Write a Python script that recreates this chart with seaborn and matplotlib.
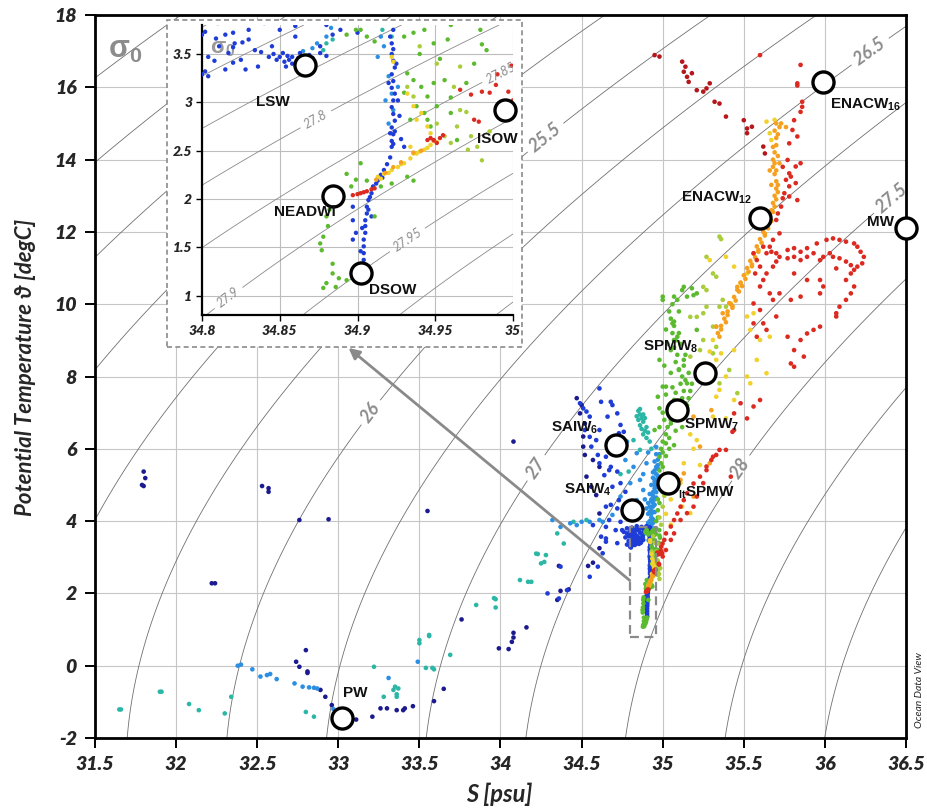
import numpy as np
import pandas as pd
import matplotlib
matplotlib.use("Agg")
import matplotlib.pyplot as plt
import seaborn as sns
from matplotlib.patches import Rectangle

sns.set_theme(style="white")
plt.rcParams["font.family"] = ["Lato", "DejaVu Sans"]
plt.rcParams["mathtext.fontset"] = "custom"
plt.rcParams["mathtext.rm"] = "Liberation Sans:bold"
plt.rcParams["mathtext.bf"] = "Liberation Sans:bold"
plt.rcParams["mathtext.it"] = "Liberation Sans:bold:italic"
plt.rcParams["mathtext.default"] = "rm"

# ---------------- data (S [psu], theta [degC]) ----------------
navy = [(31.80, 5.37), (31.81, 5.19), (31.79, 5.00), (31.80, 4.97),
        (32.53, 4.97), (32.57, 4.91), (32.57, 4.81), (32.76, 4.03), (32.94, 4.05),
        (32.22, 2.28), (32.24, 2.28),
        (32.80, 0.43), (32.74, 0.11), (32.76, -0.03), (32.81, -0.16), (32.81, -0.20),
        (32.89, -0.67), (32.92, -0.86), (32.96, -1.09),
        (33.11, -1.49), (33.21, -1.41), (33.26, -1.18), (33.30, -1.18), (33.36, -1.23),
        (33.40, -1.23), (33.46, -1.12), (33.41, -1.18), (33.08, -1.47),
        (33.59, -0.98), (33.65, -0.64), (33.76, 1.28), (33.55, 4.28), (34.08, 6.20),
        (33.99, 0.48), (34.05, 0.46), (34.07, 0.66), (34.08, 0.78), (34.08, 0.91), (34.16, 1.06),
        (34.35, 1.82), (34.37, 2.07), (34.42, 2.11), (34.36, 2.76), (34.54, 2.76), (34.57, 2.85),
        (34.47, 7.40), (34.50, 7.21), (34.49, 6.98), (34.52, 6.70), (34.51, 6.34),
        (34.51, 6.06), (34.52, 5.83), (34.57, 5.69), (34.61, 5.50), (34.53, 5.23),
        (34.56, 4.95), (34.59, 4.72), (34.61, 4.21), (34.61, 3.25)]

blue = [(34.61, 7.67), (34.62, 7.30), (34.68, 7.30), (34.69, 7.21), (34.51, 7.12), (34.49, 7.26),
        (34.53, 7.03), (34.55, 6.89), (34.52, 6.52), (34.55, 6.33), (34.59, 6.24), (34.61, 6.52),
        (34.66, 6.89), (34.72, 6.98), (34.74, 6.66), (34.73, 6.43), (34.76, 6.47), (34.56, 6.06),
        (34.60, 5.83), (34.65, 5.78), (34.61, 5.60), (34.68, 5.50), (34.64, 5.27), (34.72, 5.37),
        (34.74, 5.05), (34.69, 4.95), (34.77, 4.81), (34.73, 4.58), (34.68, 4.45), (34.78, 4.26),
        (34.74, 3.98), (34.71, 3.75), (34.65, 3.84), (34.62, 3.57), (34.57, 3.89), (34.65, 3.43),
        (34.63, 3.11), (34.60, 2.74), (34.55, 2.46), (34.37, 2.74), (34.41, 2.09), (34.36, 1.86),
        (34.29, 2.00), (34.67, 5.41), (34.65, 4.40), (34.72, 4.35), (34.67, 4.03), (34.75, 3.75),
        (34.78, 3.66), (34.65, 3.52), (34.72, 3.39), (34.82, 3.57), (34.80, 3.29),
        (34.78, 3.80), (34.79, 3.65), (34.77, 3.55), (34.76, 3.70), (34.79, 3.45), (34.78, 3.35),
        (34.84, 3.86), (34.87, 3.84), (34.90, 3.86), (34.92, 3.83), (34.81, 3.82), (34.86, 3.79),
        (34.80, 3.70), (34.83, 3.65), (34.85, 3.75), (34.88, 3.80), (34.82, 3.72), (34.79, 3.58),
        (34.84, 3.82), (34.86, 3.68), (34.90, 3.72),
        # LSW core
        (34.802, 3.73), (34.804, 3.47), (34.802, 3.32), (34.804, 3.27), (34.817, 3.51),
        (34.821, 3.61), (34.825, 3.44), (34.815, 3.34), (34.834, 3.54), (34.836, 3.37),
        (34.843, 3.47), (34.845, 3.58), (34.848, 3.44), (34.852, 3.51), (34.856, 3.44),
        (34.858, 3.40), (34.863, 3.51), (34.854, 3.37), (34.867, 3.44), (34.871, 3.46),
        (34.876, 3.51), (34.865, 3.40), (34.876, 3.58), (34.815, 3.70), (34.830, 3.75),
        (34.811, 3.58), (34.808, 3.43), (34.828, 3.34), (34.820, 3.41), (34.880, 3.48),
        (34.850, 3.47), (34.858, 3.47), (34.861, 3.43), (34.855, 3.48), (34.869, 3.49),
        (34.862, 3.46), (34.853, 3.42), (34.846, 3.50), (34.884, 3.70), (34.889, 3.75),
        (34.838, 3.52), (34.826, 3.62), (34.809, 3.66),
        # NADW core line
        (34.923, 3.75), (34.921, 3.68), (34.922, 3.61), (34.923, 3.55), (34.922, 3.50),
        (34.923, 3.43), (34.924, 3.36), (34.922, 3.29), (34.923, 3.22), (34.922, 3.15),
        (34.924, 3.09), (34.923, 3.02), (34.922, 2.95), (34.923, 2.88), (34.924, 2.81),
        (34.922, 2.74), (34.923, 2.67), (34.922, 2.60), (34.923, 2.57), (34.922, 2.54),
        (34.921, 2.43), (34.919, 2.36), (34.917, 2.30), (34.915, 2.25), (34.913, 2.19),
        (34.910, 2.13), (34.909, 2.06), (34.907, 1.99), (34.906, 1.92), (34.906, 1.85),
        (34.905, 1.78), (34.905, 1.72), (34.905, 1.65), (34.904, 1.58), (34.904, 1.51),
        (34.904, 1.44), (34.904, 1.37), (34.903, 1.33), (34.897, 1.58), (34.897, 1.78),
        (34.897, 1.92), (34.899, 1.65), (34.907, 1.89), (34.909, 1.82), (34.926, 3.02),
        (34.927, 2.86), (34.921, 2.68), (34.928, 2.62), (34.930, 2.54), (34.925, 3.40),
        (34.920, 3.20), (34.924, 2.70), (34.916, 2.22), (34.912, 2.16), (34.908, 2.02),
        (34.903, 1.70), (34.902, 1.46)]

teal = [(31.65, -1.21), (31.66, -1.21), (31.90, -0.72), (31.91, -0.72), (32.08, -1.06),
        (32.14, -1.23), (32.30, -1.32), (32.34, -0.86), (32.80, -1.28), (32.85, -1.41),
        (33.22, -0.03), (33.28, -0.86), (33.34, -0.67), (33.36, -0.86), (33.35, -0.58),
        (33.37, -0.63), (33.36, -0.79), (33.56, 0.82), (33.50, 0.71), (33.50, 0.62),
        (33.54, -0.06), (33.58, -0.06), (33.59, -0.10), (33.69, 0.30), (33.56, 0.85),
        (33.85, 1.68), (33.97, 1.84), (33.97, 1.61), (33.96, 1.87), (34.12, 2.37),
        (34.17, 2.32), (34.19, 2.32), (34.23, 3.09), (34.28, 3.06), (34.25, 2.83),
        (34.22, 3.10), (34.27, 2.87), (34.35, 3.66), (34.39, 3.38), (34.45, 3.98), (34.53, 4.03),
        (34.82, 6.24), (34.86, 5.97), (34.79, 5.37), (34.74, 5.30),
        (34.85, 7.05), (34.86, 6.95), (34.87, 6.85), (34.88, 6.75), (34.86, 6.65), (34.87, 6.55),
        (34.89, 6.50), (34.88, 6.40), (34.90, 6.30), (34.85, 6.80), (34.84, 6.90), (34.90, 6.60),
        (34.91, 6.45), (34.92, 6.20), (34.93, 6.00), (34.86, 7.10), (34.88, 6.95), (34.89, 6.85),
        (34.880, 3.61), (34.884, 3.65), (34.878, 3.54), (34.916, 3.75), (34.922, 3.68)]

azure = [(32.38, 0.00), (32.40, 0.03), (32.47, -0.10), (32.52, -0.30), (32.56, -0.26),
         (32.58, -0.23), (32.62, -0.37), (32.73, -0.49), (32.78, -0.58), (32.82, -0.60),
         (32.85, -0.61), (32.87, -0.63), (33.31, -0.34), (33.49, 0.11), (32.97, -1.20),
         (33.00, -1.30),
         (34.32, 4.03), (34.37, 3.84), (34.43, 3.94), (34.47, 3.89), (34.50, 3.98), (34.55, 3.98),
         (34.61, 4.03), (34.63, 3.98),
         (34.77, 5.69), (34.84, 5.88), (34.82, 5.50), (34.86, 5.14), (34.88, 4.86), (34.84, 4.58),
         (34.86, 4.22), (34.74, 4.68), (34.80, 5.05), (34.69, 4.17), (34.70, 5.90), (34.78, 6.20),
         (34.92, 3.90), (34.93, 4.10), (34.93, 4.30), (34.94, 4.50), (34.94, 4.70), (34.95, 4.90),
         (34.95, 5.10), (34.96, 5.30), (34.96, 5.50), (34.97, 5.70), (34.92, 4.00), (34.91, 4.20),
         (34.92, 4.40), (34.93, 4.60), (34.94, 4.80), (34.93, 5.00), (34.94, 5.20), (34.95, 5.40),
         (34.93, 4.20), (34.94, 4.40), (34.95, 4.60), (34.96, 4.80), (34.94, 3.95), (34.95, 5.00),
         (34.96, 5.15), (34.92, 4.75), (34.91, 4.50), (34.97, 5.45), (34.98, 5.85), (34.96, 6.05),
         (34.93, 3.85), (34.94, 4.05), (34.95, 4.25), (34.95, 4.45), (34.96, 4.65), (34.96, 4.95),
         (34.97, 5.25), (34.97, 5.55), (34.93, 4.55), (34.92, 4.25), (34.94, 5.35), (34.95, 5.65),
         (34.96, 5.85), (34.91, 3.95), (34.90, 4.35), (34.89, 4.60), (34.88, 5.30), (34.90, 5.60),
         (34.91, 5.90),
         (34.874, 3.61), (34.880, 3.68), (34.883, 3.77), (34.871, 3.56), (34.865, 3.53),
         (34.915, 3.68), (34.917, 3.58), (34.913, 3.47), (34.920, 3.27), (34.922, 3.09),
         (34.918, 3.02), (34.923, 2.92), (34.920, 2.78), (34.926, 3.16)]

green = [(35.05, 9.60), (35.07, 9.40), (35.06, 9.20), (35.08, 9.00), (35.07, 8.80), (35.09, 8.60),
         (35.08, 8.40), (35.10, 8.20), (35.12, 8.00), (35.11, 7.80), (35.13, 7.60), (35.12, 7.40),
         (35.15, 7.20), (35.10, 7.00), (35.05, 6.80), (35.03, 6.60), (35.02, 6.40), (35.00, 6.20),
         (34.99, 6.00), (35.04, 7.20), (35.02, 7.50), (35.06, 7.70), (35.14, 7.90), (35.16, 8.10),
         (35.18, 7.80), (35.09, 7.30), (35.00, 7.00), (34.98, 6.60), (35.08, 6.50), (35.04, 6.30),
         (35.02, 5.80), (35.00, 5.50), (34.99, 5.20), (34.98, 4.90), (34.97, 4.60), (34.97, 4.30),
         (34.96, 4.00), (35.00, 10.12), (35.07, 10.21), (35.13, 10.48), (35.18, 10.44),
         (35.21, 10.30), (35.06, 9.47), (35.07, 9.01), (35.00, 7.72), (35.01, 8.30), (35.03, 8.90),
         (35.10, 9.20), (35.14, 8.60), (35.16, 7.40), (35.07, 6.10), (34.99, 5.60), (35.01, 5.00),
         (34.98, 3.60), (34.97, 3.20), (35.07, 9.52), (35.09, 9.10), (35.05, 8.73), (35.13, 8.46),
         (34.98, 8.46), (35.10, 8.18), (35.15, 7.81), (35.02, 7.72), (34.97, 7.44), (35.07, 7.35),
         (35.14, 7.26), (34.98, 7.12), (35.05, 6.70), (34.95, 6.52), (35.02, 6.15), (34.98, 5.78),
         (35.21, 9.29), (35.15, 10.21), (35.19, 10.25), (35.12, 10.39), (35.09, 10.12), (35.00, 10.21),
         (35.04, 9.80), (35.06, 10.00), (35.10, 9.80), (35.02, 9.30), (35.11, 8.90), (35.13, 8.30),
         (35.05, 8.10), (35.08, 7.55), (35.11, 7.10), (35.01, 6.80), (35.06, 6.90), (35.04, 6.00),
         (35.00, 5.90), (34.98, 5.40), (35.00, 4.80), (34.98, 4.50), (34.97, 4.10), (34.96, 3.80),
         (35.17, 7.60), (35.12, 6.60),
         (34.893, 3.70), (34.899, 3.75), (34.911, 3.63), (34.930, 3.68), (34.936, 3.72),
         (34.943, 3.75), (34.949, 3.61), (34.958, 3.65), (34.932, 3.30), (34.936, 3.23),
         (34.941, 3.16), (34.945, 3.06), (34.949, 3.20), (34.938, 2.96), (34.943, 2.89),
         (34.945, 2.82), (34.947, 2.75), (34.934, 2.82), (34.951, 2.96), (34.956, 3.23),
         (34.960, 2.89), (34.964, 2.61), (34.932, 2.23), (34.936, 2.19), (34.922, 2.16),
         (34.915, 2.13), (34.906, 2.19), (34.893, 2.26), (34.896, 2.13), (34.882, 1.89),
         (34.880, 1.82), (34.881, 1.72), (34.878, 1.61), (34.876, 1.54), (34.877, 1.47),
         (34.884, 1.33), (34.884, 1.23), (34.880, 1.13), (34.878, 1.08), (34.886, 1.09),
         (34.893, 1.16), (34.897, 1.21), (34.902, 1.33), (34.911, 1.82), (34.902, 2.37),
         (34.899, 2.20), (34.979, 3.75), (34.983, 3.54), (34.975, 3.40), (34.902, 3.75),
         (34.906, 3.68), (34.940, 3.50), (34.953, 3.45), (34.930, 3.10), (34.960, 3.05),
         (34.888, 1.18), (34.900, 1.27)]

ygreen = [(35.35, 11.87), (35.36, 11.80), (35.27, 11.31), (35.31, 10.85), (35.25, 10.48),
          (35.27, 9.93), (35.35, 9.93), (35.39, 9.93), (35.21, 9.65), (35.31, 9.38), (35.25, 9.01),
          (35.33, 8.82), (35.17, 8.55), (35.25, 8.32), (35.35, 7.81), (35.41, 8.18), (35.46, 7.54),
          (35.33, 10.76), (35.27, 10.39), (35.37, 10.12), (35.25, 9.75), (35.33, 9.38), (35.23, 8.73),
          (35.31, 8.64), (35.17, 9.65), (34.99, 3.90), (35.00, 4.40), (34.98, 4.10), (35.01, 4.70),
          (34.97, 2.90), (34.98, 2.40),
          (34.932, 3.16), (34.936, 3.06), (34.951, 2.78), (34.956, 2.65), (34.960, 2.58),
          (34.964, 2.75), (34.966, 2.92), (34.973, 2.65), (34.977, 2.54), (34.951, 3.40),
          (34.966, 3.37), (34.962, 3.16), (34.971, 2.51), (34.940, 3.58), (34.985, 2.70)]

yellow = [(35.56, 9.75), (35.54, 9.29), (35.60, 9.01), (35.66, 9.10), (35.58, 8.46), (35.64, 8.09),
          (35.54, 7.81), (35.29, 8.69), (35.36, 8.64), (35.39, 8.00), (35.35, 7.63), (35.31, 6.89),
          (35.39, 6.84), (35.21, 6.24), (35.13, 5.60), (35.23, 5.55), (35.17, 4.22), (35.11, 5.05),
          (35.44, 11.04), (35.39, 11.31), (35.52, 10.85), (35.29, 11.22), (35.48, 10.58),
          (35.42, 10.02), (35.52, 9.66), (35.31, 9.01), (35.44, 8.73), (35.33, 8.46), (35.52, 8.00),
          (35.33, 7.44), (35.44, 7.35), (35.64, 15.05), (35.69, 15.10), (35.66, 14.73), (35.67, 14.54),
          (35.17, 6.40), (35.19, 6.00), (35.05, 4.60), (35.08, 4.90), (35.02, 4.20), (35.05, 3.90),
          (35.03, 5.30), (35.12, 4.40),
          (34.922, 3.47), (34.923, 3.42), (34.932, 3.09), (34.936, 2.96), (34.941, 2.89),
          (34.938, 2.82), (34.945, 2.75), (34.947, 2.68), (34.934, 2.54), (34.936, 2.47),
          (34.913, 2.23), (34.917, 2.26), (34.922, 2.30), (34.926, 2.33), (34.930, 2.37),
          (34.934, 2.42), (34.938, 2.47), (34.943, 2.51), (34.947, 2.56), (34.951, 2.59),
          (34.915, 2.21), (34.920, 2.27), (34.928, 2.36), (34.940, 2.49), (34.945, 2.53)]

orange = [(35.34, 9.2), (35.36, 9.4), (35.38, 9.6), (35.40, 9.8), (35.42, 10.0), (35.44, 10.2),
          (35.46, 10.4), (35.48, 10.6), (35.50, 10.8), (35.52, 11.0), (35.54, 11.2), (35.56, 11.4),
          (35.58, 11.6), (35.60, 11.8), (35.62, 12.0), (35.64, 12.2), (35.66, 12.4), (35.67, 12.6),
          (35.68, 12.8), (35.69, 13.0), (35.70, 13.2), (35.70, 13.4), (35.69, 13.6), (35.68, 13.8),
          (35.68, 14.0), (35.69, 14.2), (35.70, 14.4), (35.70, 14.6), (35.69, 14.8), (35.70, 15.0),
          (35.73, 15.0), (35.76, 14.9), (35.36, 9.3), (35.40, 9.7), (35.45, 10.1), (35.49, 10.5),
          (35.53, 10.9), (35.57, 11.3), (35.61, 11.7), (35.65, 12.1), (35.67, 12.3), (35.69, 12.7),
          (35.71, 13.1), (35.67, 13.3), (35.66, 13.7), (35.72, 13.9), (35.46, 10.48), (35.41, 10.03),
          (35.37, 9.75), (35.33, 9.38), (35.55, 11.05), (35.59, 11.45), (35.63, 11.9), (35.43, 9.9),
          (35.35, 9.1), (35.39, 9.5), (35.43, 9.95), (35.47, 10.35), (35.51, 10.7), (35.55, 11.1),
          (35.59, 11.5), (35.63, 11.95), (35.66, 12.25), (35.68, 12.55), (35.70, 12.9), (35.71, 13.3),
          (35.70, 13.7), (35.69, 13.9), (35.71, 14.1), (35.68, 14.35), (35.71, 14.7), (35.72, 14.9),
          (35.19, 6.89), (35.30, 7.07), (35.23, 6.06), (35.29, 5.60), (35.13, 5.32), (35.11, 5.14),
          (35.19, 4.68),
          (34.923, 2.33), (34.936, 2.48), (34.928, 2.38), (34.941, 2.50), (34.918, 2.27),
          (34.949, 2.60), (34.912, 2.20)]

red = [(35.60, 16.89), (35.85, 16.62), (35.83, 16.11), (35.83, 16.05), (35.86, 15.60), (35.86, 15.46),
       (35.85, 15.32), (35.81, 15.09), (35.80, 14.82), (35.83, 14.64), (35.78, 14.45), (35.85, 13.90),
       (35.82, 13.81), (35.78, 13.62), (35.76, 13.44), (35.82, 13.35), (35.78, 13.26), (35.75, 13.07),
       (35.78, 12.98), (35.74, 12.93), (35.73, 12.70), (35.71, 12.51), (35.70, 12.33), (35.72, 11.96),
       (35.68, 11.78), (35.66, 11.59), (35.77, 13.99), (35.74, 13.80), (35.79, 13.53), (35.83, 12.88),
       (35.56, 11.41), (35.58, 11.22), (35.60, 11.04), (35.57, 10.85), (35.64, 11.41), (35.62, 11.59),
       (35.67, 11.45), (35.70, 11.41), (35.77, 11.50), (35.81, 11.55), (35.85, 11.45), (35.89, 11.55),
       (35.95, 11.68), (36.01, 11.78), (36.05, 11.82), (36.09, 11.78), (36.13, 11.73), (36.18, 11.68),
       (36.20, 11.59), (36.22, 11.45), (36.24, 11.31), (36.23, 11.13), (36.20, 11.04), (36.18, 10.95),
       (36.16, 10.85), (36.13, 10.67), (36.18, 10.49), (36.16, 10.30), (36.13, 10.12), (36.09, 9.93),
       (36.07, 9.66), (36.05, 11.31), (36.09, 11.27), (36.13, 11.18), (36.16, 11.08), (36.07, 10.99),
       (36.03, 11.41), (35.99, 11.31), (35.97, 11.22), (35.93, 11.41), (35.89, 11.31), (35.85, 11.22),
       (35.81, 11.31), (35.77, 11.27), (35.72, 11.31), (35.70, 11.18), (35.68, 11.04), (35.64, 10.85),
       (35.62, 10.67), (35.60, 10.49), (35.66, 10.30), (35.68, 10.12), (35.72, 10.30), (35.79, 10.12),
       (35.85, 10.21), (35.97, 10.30), (35.99, 10.49), (35.89, 10.67), (35.81, 10.85), (35.97, 10.67),
       (35.56, 10.02), (35.60, 9.84), (35.62, 9.47), (35.64, 9.29), (35.56, 9.47), (35.58, 9.10),
       (35.70, 9.66), (35.77, 9.10), (35.81, 8.73), (35.85, 9.01), (35.89, 9.19), (35.93, 9.29),
       (35.97, 9.38), (35.87, 8.55), (35.81, 8.27), (35.79, 8.36), (36.07, 9.75),
       (35.52, 6.84), (35.56, 7.17), (35.60, 7.35), (35.44, 6.52), (35.35, 5.97), (35.31, 5.78),
       (35.27, 5.41), (35.23, 5.23), (35.19, 5.04), (35.15, 4.77), (35.13, 4.58), (35.11, 4.40),
       (35.09, 4.21), (35.07, 4.03), (35.05, 3.85), (35.02, 3.66), (35.01, 3.48), (34.99, 3.29),
       (34.98, 3.11), (35.48, 7.26), (35.44, 6.98), (35.43, 6.47), (35.39, 5.97), (35.33, 5.83),
       (35.30, 5.69), (35.27, 5.51), (35.25, 5.05), (35.21, 4.68), (35.19, 4.40), (35.15, 4.22),
       (35.11, 4.03), (35.07, 3.66), (35.05, 3.48), (35.02, 3.20), (35.00, 3.02), (35.42, 5.23),
       (34.897, 2.04), (34.900, 2.05), (34.902, 2.06), (34.904, 2.07), (34.906, 2.08),
       (34.909, 2.10), (34.911, 2.11), (34.945, 2.61), (34.949, 2.61), (34.953, 2.63),
       (34.951, 2.58), (34.947, 2.63), (34.966, 3.13), (34.973, 3.08), (34.985, 3.10),
       (34.989, 3.18), (34.997, 3.11), (34.975, 2.82), (34.978, 2.80), (34.999, 3.38), (34.955, 2.66)]

darkred = [(34.95, 16.89), (34.98, 16.85), (35.12, 16.71), (35.14, 16.57), (35.13, 16.43),
           (35.15, 16.29), (35.18, 16.39), (35.16, 16.15), (35.21, 15.92), (35.25, 15.88),
           (35.27, 15.97), (35.29, 16.11), (35.32, 15.60), (35.35, 15.55), (35.39, 15.19),
           (35.50, 15.09), (35.52, 14.86), (35.55, 14.91), (35.52, 14.73), (35.62, 14.36),
           (35.63, 14.17)]

group_colors = {"navy": "#1b1b8f", "blue": "#1f3cd6", "teal": "#2bb7a6", "azure": "#2c8fe2",
                "green": "#5cba2f", "ygreen": "#a9cd3a", "yellow": "#f1d12b",
                "orange": "#f5a01f", "red": "#dc2a20", "darkred": "#b5181c"}
groups = {"navy": navy, "teal": teal, "azure": azure, "blue": blue, "green": green,
          "ygreen": ygreen, "yellow": yellow, "orange": orange, "red": red, "darkred": darkred}

wm_main_names = ["ENACW$_{16}$", "ENACW$_{12}$", "MW", "SPMW$_{8}$", "SPMW$_{7}$",
                 "SAIW$_{6}$", "${}_{lt}$SPMW", "SAIW$_{4}$", "PW"]
wm_main_S = [35.99, 35.60, 36.50, 35.26, 35.09, 34.71, 35.03, 34.81, 33.02]
wm_main_T = [16.15, 12.38, 12.10, 8.10, 7.07, 6.10, 5.05, 4.31, -1.46]

wm_in_names = ["LSW", "ISOW", "NEADWl", "DSOW"]
wm_in_S = [34.866, 34.995, 34.884, 34.902]
wm_in_T = [3.386, 2.92, 2.03, 1.23]

frames = [pd.DataFrame(pts, columns=["S", "T"]).assign(grp=g) for g, pts in groups.items()]
df = pd.concat(frames, ignore_index=True)


def sigma0(S, T):
    rw = (999.842594 + 6.793952e-2 * T - 9.095290e-3 * T**2 + 1.001685e-4 * T**3
          - 1.120083e-6 * T**4 + 6.536332e-9 * T**5)
    A = 8.24493e-1 - 4.0899e-3 * T + 7.6438e-5 * T**2 - 8.2467e-7 * T**3 + 5.3875e-9 * T**4
    B = -5.72466e-3 + 1.0227e-4 * T - 1.6546e-6 * T**2
    C = 4.8314e-4
    return rw + A * S + B * S**1.5 + C * S**2 - 1000.0


W, H = 928, 811
fig = plt.figure(figsize=(W / 100, H / 100), dpi=100)
ax = fig.add_axes([95 / W, 1 - 738 / H, (906 - 95) / W, (738 - 15) / H])
ax.set_xlim(31.5, 36.5)
ax.set_ylim(-2, 18)

tick_font = dict(family=["Lato", "DejaVu Sans"], weight="heavy", style="italic", size=14)
xt = np.arange(31.5, 36.51, 0.5)
yt = np.arange(-2, 18.1, 2)
ax.set_xticks(xt)
ax.set_xticklabels([f"{v:g}" for v in xt], fontdict=tick_font)
ax.set_yticks(yt)
ax.set_yticklabels([f"{v:g}" for v in yt], fontdict=tick_font)
ax.tick_params(direction="out", length=7, width=1.4, color="black", pad=6,
               bottom=True, left=True)
ax.grid(True, color="#c6c6c6", lw=0.8)
ax.set_axisbelow(True)
for sp in ax.spines.values():
    sp.set_color("black")
    sp.set_linewidth(2.0)

Sg, Tg = np.meshgrid(np.linspace(31.5, 36.5, 300), np.linspace(-2, 18, 300))
cs = ax.contour(Sg, Tg, sigma0(Sg, Tg), levels=np.arange(20, 30.01, 0.5),
                colors="#707070", linewidths=0.6, zorder=1.5)
cl = ax.clabel(cs, manual=[(34.29, 14.54), (33.26, 6.8), (36.25, 17.17), (34.22, 5.47),
                           (36.34, 13.3), (35.48, 5.47)],
               fmt=lambda v: f"{v:g}", fontsize=13, colors="#8c8c8c", inline=True)
for t in cl:
    t.set_fontweight("bold")
    t.set_fontstyle("italic")

ax.text(31.58, 17.0, r"$\sigma_0$", color="#8c8c8c", fontsize=22, va="center", ha="left",
        zorder=2)

sns.scatterplot(data=df, x="S", y="T", hue="grp", palette=group_colors, s=11,
                linewidth=0, legend=False, ax=ax, zorder=3)

# inset location box on main plot
ax.add_patch(Rectangle((34.80, 0.80), 0.16, 3.05, fill=False, edgecolor="#8a8a8a",
                       ls=(0, (4, 2.5)), lw=1.6, zorder=5))

sns.scatterplot(x=wm_main_S, y=wm_main_T, s=230, color="white", edgecolor="black",
                linewidth=2.4, ax=ax, zorder=6, clip_on=False)

lab_off = [(7, -23, "left"), (-8, 20, "right"), (-12, 6, "right"), (-34, 26, "center"),
           (7, -15, "left"), (-17, 17, "right"), (10, -10, "left"), (-20, 20, "right"),
           (1, 25, "left")]
for nm, s_, t_, (dx, dy, ha) in zip(wm_main_names, wm_main_S, wm_main_T, lab_off):
    ax.annotate(nm, (s_, t_), xytext=(dx, dy), textcoords="offset pixels", ha=ha,
                va="center", fontsize=11, fontweight="bold", family="Liberation Sans",
                color="#111111", zorder=7)

ax.annotate("", xy=(33.05, 8.84), xytext=(34.81, 2.31),
            arrowprops=dict(arrowstyle="-|>", color="#8a8a8a", lw=2.0, mutation_scale=16),
            zorder=8)

ax.set_xlabel("")
ax.set_ylabel("")
fig.text(499 / W, 1 - 794 / H, "S [psu]", fontsize=17, fontweight="bold",
         fontstyle="italic", ha="center", va="center")
fig.text(26 / W, 1 - 367 / H, "Potential Temperature ϑ [degC]", fontsize=16,
         fontweight="bold", fontstyle="italic", rotation=90, ha="center", va="center")

# dashed white box behind inset
box = Rectangle((167 / W, 1 - 347 / H), (522 - 167) / W, (347 - 20) / H,
                transform=fig.transFigure, facecolor="white", edgecolor="#8a8a8a",
                ls=(0, (3, 2)), lw=1.2, zorder=1)
fig.add_artist(box)

# ---------------- inset ----------------
axi = fig.add_axes([202 / W, 1 - 315 / H, (513 - 202) / W, (315 - 25) / H])
axi.set_zorder(2)
axi.set_facecolor("white")
axi.set_xlim(34.8, 35.0)
axi.set_ylim(0.8, 3.8)
ixt = [34.8, 34.85, 34.9, 34.95, 35.0]
iyt = [1, 1.5, 2, 2.5, 3, 3.5]
in_font = dict(family=["Lato", "DejaVu Sans"], weight="heavy", style="italic", size=10)
axi.set_xticks(ixt)
axi.set_xticklabels([f"{v:g}" for v in ixt], fontdict=in_font)
axi.set_yticks(iyt)
axi.set_yticklabels([f"{v:g}" for v in iyt], fontdict=in_font)
axi.tick_params(direction="out", length=4, width=1.0, color="black", pad=3,
                bottom=True, left=True)
axi.grid(True, color="#bdbdbd", lw=0.8)
axi.set_axisbelow(True)
axi.spines["top"].set_visible(False)
axi.spines["right"].set_visible(False)
for k in ["left", "bottom"]:
    axi.spines[k].set_color("black")
    axi.spines[k].set_linewidth(1.6)

Si, Ti = np.meshgrid(np.linspace(34.8, 35.0, 200), np.linspace(0.8, 3.8, 200))
csi = axi.contour(Si, Ti, sigma0(Si, Ti), levels=np.round(np.arange(27.6, 28.11, 0.05), 2),
                  colors="#8a8a8a", linewidths=0.6, zorder=1.5)
cli = axi.clabel(csi, manual=[(34.874, 2.80), (34.993, 3.28), (34.816, 1.0), (34.932, 1.58)],
                 fmt=lambda v: f"{v:.2f}".rstrip("0").rstrip("."), fontsize=9,
                 colors="#8c8c8c", inline=True)
for t in cli:
    t.set_fontstyle("italic")

axi.text(34.805, 3.55, r"$\sigma_0$", color="#9a9a9a", fontsize=16, va="center", zorder=2)

sns.scatterplot(data=df, x="S", y="T", hue="grp", palette=group_colors, s=10,
                linewidth=0, legend=False, ax=axi, zorder=3)
sns.scatterplot(x=wm_in_S, y=wm_in_T, s=230, color="white", edgecolor="black",
                linewidth=2.4, ax=axi, zorder=6, clip_on=False)
in_off = [(-32, -37), (-8, -29), (-28, -16), (32, -17)]
for nm, s_, t_, (dx, dy) in zip(wm_in_names, wm_in_S, wm_in_T, in_off):
    axi.annotate(nm, (s_, t_), xytext=(dx, dy), textcoords="offset pixels", ha="center",
                 va="center", fontsize=11, fontweight="bold", family="Liberation Sans",
                 color="#111111", zorder=7)
axi.set_xlabel("")
axi.set_ylabel("")

fig.text(920 / W, 1 - 690 / H, "Ocean Data View", rotation=90, fontsize=7.5,
         fontstyle="italic", ha="center", va="center")

fig.savefig("out.png", dpi=100)
